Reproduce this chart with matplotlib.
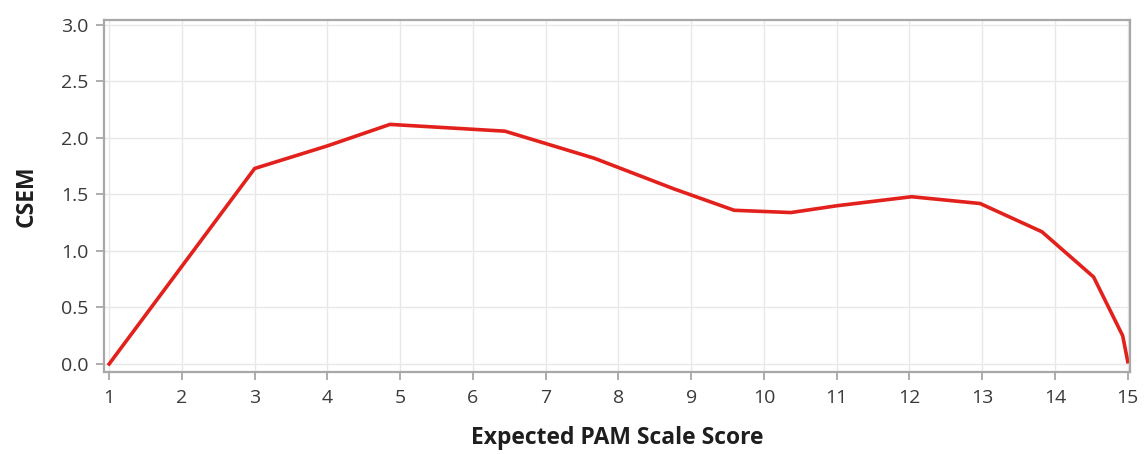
import matplotlib
matplotlib.use("Agg")
import matplotlib.pyplot as plt

# expected PAM scale score vs CSEM
score = [1.0, 3.0, 4.0, 4.86, 6.44, 7.67, 8.76, 9.59, 10.37, 11.0, 12.03,
         12.97, 13.82, 14.53, 14.93, 15.0]
csem = [0.0, 1.73, 1.93, 2.12, 2.06, 1.82, 1.55, 1.36, 1.34, 1.40, 1.48,
        1.42, 1.17, 0.77, 0.25, 0.02]

x_ticks = list(range(1, 16))
y_ticks = [0.0, 0.5, 1.0, 1.5, 2.0, 2.5, 3.0]

plt.rcParams['font.family'] = ['Open Sans', 'DejaVu Sans']

fig = plt.figure(figsize=(11.46, 4.54), dpi=100)
ax = fig.add_axes([0.0908, 0.1806, 0.8952, 0.7754])

ax.plot(score, csem, color="#e3211c", linewidth=2.6, solid_joinstyle="round")

ax.set_xlim(0.93, 15.03)
ax.set_ylim(-0.071, 3.044)
ax.set_xticks(x_ticks)
ax.set_yticks(y_ticks)
ax.set_yticklabels([f"{v:.1f}" for v in y_ticks])

ax.grid(True, color="#e8e8e8", linewidth=1.0)
ax.set_axisbelow(True)

for spine in ax.spines.values():
    spine.set_color("#a8a8a8")
    spine.set_linewidth(1.6)

ax.tick_params(axis="both", colors="#a0a0a0", length=6, width=1.2,
               labelsize=14, labelcolor="#3a3a3a", pad=5)
ax.tick_params(axis="x", pad=6)

ax.set_xlabel("Expected PAM Scale Score", fontsize=16.5, fontweight="bold",
              color="#1e1e1e", labelpad=14)
ax.set_ylabel("CSEM", fontsize=16.5, fontweight="bold", color="#1e1e1e",
              labelpad=16)

fig.savefig("out.png", dpi=100, facecolor="white")
